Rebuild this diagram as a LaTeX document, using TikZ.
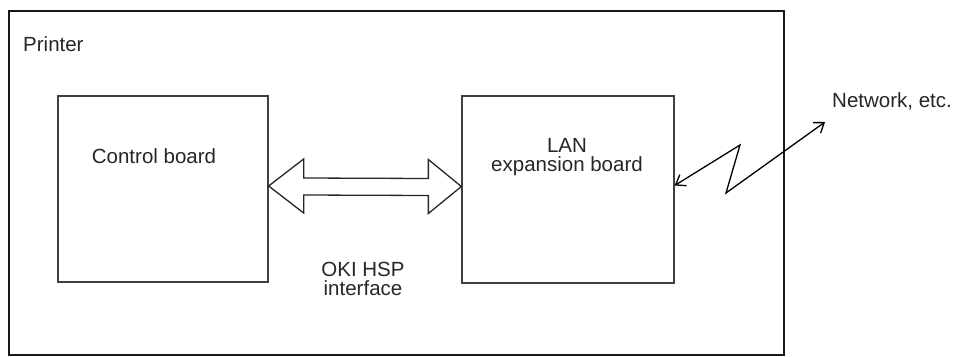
\documentclass[tikz,border=0pt]{standalone}
\usepackage{fontspec}
\setmainfont{Liberation Sans}
\usetikzlibrary{arrows.meta,calc}
\begin{document}
\begin{tikzpicture}[x=1pt,y=-1pt,
  outerbox/.style={draw=black!90,line width=2pt,inner sep=0pt},
  board/.style={draw=black!75,line width=1.3pt,inner sep=0pt},
  lbl/.style={font=\fontsize{20.5}{19}\selectfont,text=black!85,inner sep=0pt,align=center},
  fatarrow/.style={draw=black!85,line width=1.3pt,line join=miter},
  zz/.style={draw=black,line width=1.3pt,{Straight Barb[length=9pt,width=13pt]}-{Straight Barb[length=9pt,width=13pt]}}]
\useasboundingbox (0,0) rectangle (963,356);
% printer box
\node[outerbox,minimum width=775pt,minimum height=344pt] (printer) at (396,182.5) {};
\node[lbl,anchor=west] (ptxt) at (23,44) {Printer};
% boards
\node[board,minimum width=210pt,minimum height=186pt] (ctrl) at (163,189) {};
\node[board,minimum width=212pt,minimum height=187pt] (lan) at (568,189.5) {};
\node[lbl] (ctxt) at (154,156) {Control board};
\node[lbl] (ltxt) at (567,157) {LAN\\expansion board};
\node[lbl] (itxt) at (363,279) {OKI HSP\\interface};
\node[lbl,anchor=west] (ntxt) at (832,101) {Network, etc.};
% fat double arrow
\coordinate (aL) at ([yshift=3pt]ctrl.east);
\coordinate (aR) at ([yshift=3pt]lan.west);
\draw[fatarrow] (aL) -- ($(aL)+(35,-27)$) -- ($(aL)+(35,-8)$) -- ($(aR)+(-33,-8)$)
  -- ($(aR)+(-33,-27)$) -- (aR) -- ($(aR)+(-33,27)$) -- ($(aR)+(-33,9)$)
  -- ($(aL)+(35,9)$) -- ($(aL)+(35,27)$) -- cycle;
% zigzag link
\coordinate (z1) at (740,145);
\coordinate (z2) at (726,193);
\coordinate (net) at (825,122);
\draw[zz] ([yshift=4pt]lan.east) -- (z1) -- (z2) -- (net);
\end{tikzpicture}
\end{document}
